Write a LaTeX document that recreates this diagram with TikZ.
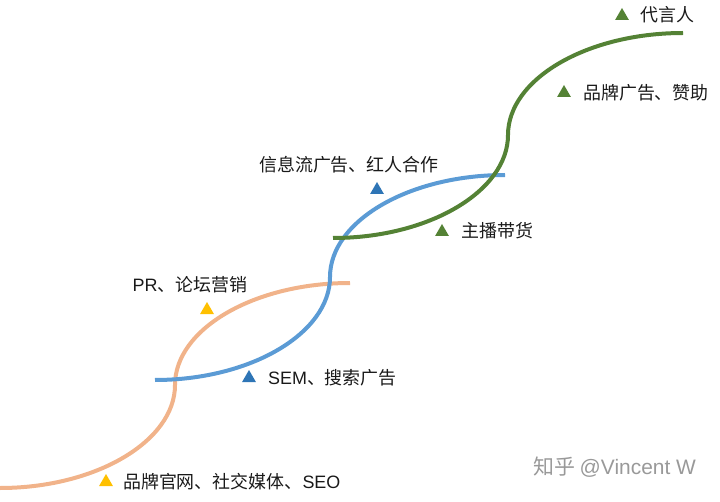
\documentclass[tikz,border=0pt]{standalone}
\usepackage{fontspec}
\setmainfont{Noto Sans CJK SC}
\newfontfamily\latinfont{Liberation Sans}
\usetikzlibrary{shapes.geometric}
\definecolor{peach}{HTML}{F1B38A}
\definecolor{skyblue}{HTML}{5B9BD5}
\definecolor{leaf}{HTML}{548235}
\definecolor{amber}{HTML}{FFC000}
\definecolor{deepblue}{HTML}{2E75B6}
\begin{document}
\begin{tikzpicture}[x=1bp, y=-1bp, font=\fontsize{18}{21}\selectfont]
	
	\tikzset{
		stage/.style={line width=4bp},
		tri/.style={regular polygon, regular polygon sides=3, inner sep=0pt, minimum size=16bp, draw=none},
		lbl/.style={anchor=west, inner sep=0pt, text=black!90},
	}
	\useasboundingbox (0,0) rectangle (720,502);
	
	% Three S curves
	\draw[stage, peach] (0,488) .. controls (96,488) and (175,441) .. (175,385)
		.. controls (175,329) and (254,283) .. (350,283);
	\draw[stage, skyblue] (155,380) .. controls (251,380) and (330,333) .. (330,277)
		.. controls (330,221) and (409,175) .. (505,175);
	\draw[stage, leaf] (333,238) .. controls (429,238) and (508,191) .. (508,135)
		.. controls (508,79) and (587,33) .. (683,33);
	
	% Markers
	\node[tri, fill=amber] (y1) at (106,482) {};
	\node[tri, fill=amber] (y2) at (207,310) {};
	\node[tri, fill=deepblue] (b1) at (249,378) {};
	\node[tri, fill=deepblue] (b2) at (377,190) {};
	\node[tri, fill=leaf] (g1) at (442,232) {};
	\node[tri, fill=leaf] (g2) at (564,93) {};
	\node[tri, fill=leaf] (g3) at (622,16) {};
	
	% Labels
	\node[lbl] (ly1) at (123,482) {品牌官网、社交媒体、{\latinfont SEO}};
	\node[inner sep=0pt, text=black!90] (ly2) at (190,285) {{\latinfont PR}、论坛营销};
	\node[lbl] (lb1) at (268,378) {{\latinfont SEM}、搜索广告};
	\node[lbl] (lb2) at (259,165) {信息流广告、红人合作};
	\node[lbl] (lg1) at (461,231) {主播带货};
	\node[lbl] (lg2) at (583,93) {品牌广告、赞助};
	\node[lbl] (lg3) at (640,15) {代言人};
	
	% Watermark
	\node[lbl, text=black!40, font=\fontsize{21}{24}\selectfont] (wm) at (533,467)
		{知乎 {\latinfont @Vincent W}};
	
\end{tikzpicture}
\end{document}
